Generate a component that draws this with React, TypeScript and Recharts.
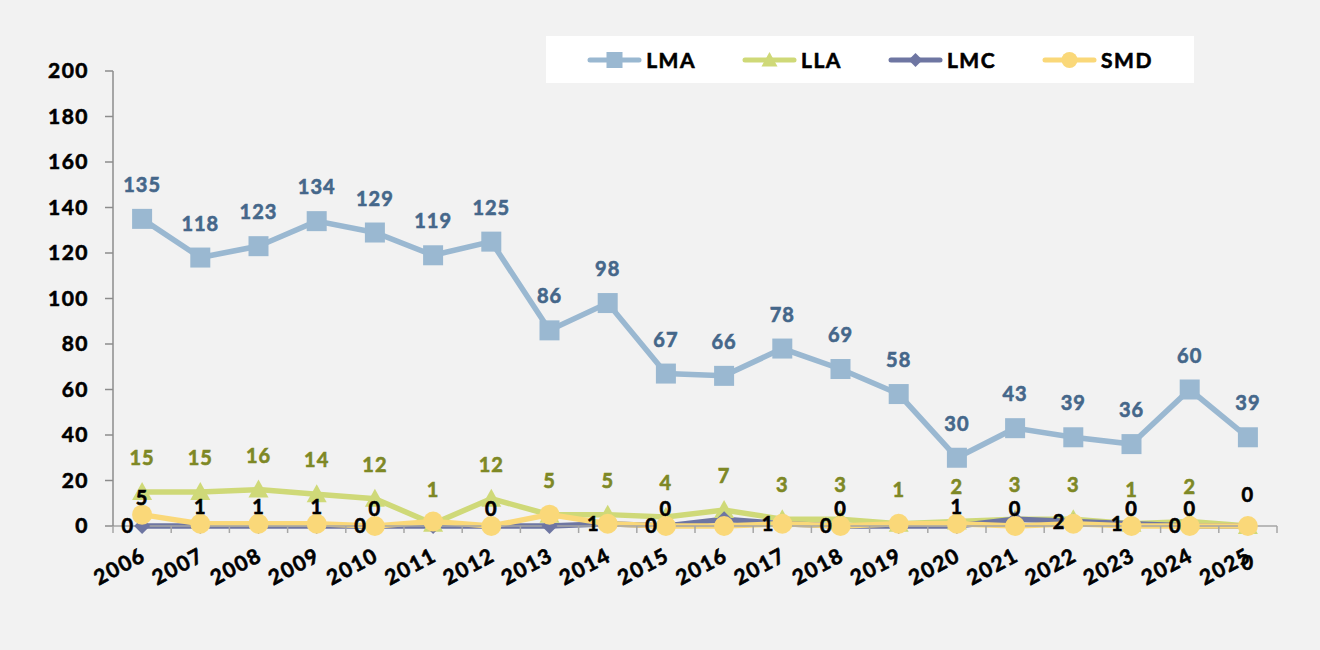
import React from 'react';
import { LabelList, Legend, Line, LineChart, XAxis, YAxis } from 'recharts';

const YEARS = [
  '2006', '2007', '2008', '2009', '2010', '2011', '2012', '2013', '2014', '2015',
  '2016', '2017', '2018', '2019', '2020', '2021', '2022', '2023', '2024', '2025',
];

const LMA = [135, 118, 123, 134, 129, 119, 125, 86, 98, 67, 66, 78, 69, 58, 30, 43, 39, 36, 60, 39];
const LLA = [15, 15, 16, 14, 12, 1, 12, 5, 5, 4, 7, 3, 3, 1, 2, 3, 3, 1, 2, 0];
const LMC = [0, 0, 0, 0, 0, 0, 0, 0, 1, 0, 3, 1, 0, 0, 0, 3, 2, 1, 0, 0];
const SMD = [5, 1, 1, 1, 0, 2, 0, 5, 1, 0, 0, 1, 0, 1, 1, 0, 1, 0, 0, 0];

// labels that are actually visible in the source (null = hidden)
const LLA_LABELS = [15, 15, 16, 14, 12, 1, 12, 5, 5, 4, 7, 3, 3, 1, 2, 3, 3, 1, 2, null];
const LMC_LABELS = [0, null, null, null, 0, null, null, null, 1, 0, null, 1, 0, null, null, null, 2, 1, 0, null];
const LMC_LABELS_BELOW = [null, null, null, null, null, null, null, null, null, null, null, null, null, null, null, null, null, null, null, 0];
const SMD_LABELS = [5, 1, 1, 1, 0, null, 0, null, null, 0, null, null, 0, null, 1, 0, null, 0, 0, null];
const SMD_LABELS_HIGH = [null, null, null, null, null, null, null, null, null, null, null, null, null, null, null, null, null, null, null, 0];

const Y_TICKS = [0, 20, 40, 60, 80, 100, 120, 140, 160, 180, 200];

const COLORS = {
  lma: '#9ab8d1',
  lla: '#cfd978',
  lmc: '#6e76a2',
  smd: '#fad879',
  lmaText: '#45678a',
  llaText: '#7e8825',
};

const WIDTH = 1320;
const HEIGHT = 650;
const PLOT_LEFT = 113;
const PLOT_RIGHT = 1277;
const BAND = (PLOT_RIGHT - PLOT_LEFT) / YEARS.length;

const data = YEARS.map((year, i) => ({
  year,
  lma: LMA[i],
  lla: LLA[i],
  lmc: LMC[i],
  smd: SMD[i],
  llaLbl: LLA_LABELS[i],
  lmcLbl: LMC_LABELS[i],
  lmcLblBelow: LMC_LABELS_BELOW[i],
  smdLbl: SMD_LABELS[i],
  smdLblHigh: SMD_LABELS_HIGH[i],
}));

type Shape = 'square' | 'triangle' | 'diamond' | 'circle';

const SERIES: { key: string; name: string; color: string; shape: Shape }[] = [
  { key: 'lma', name: 'LMA', color: COLORS.lma, shape: 'square' },
  { key: 'lla', name: 'LLA', color: COLORS.lla, shape: 'triangle' },
  { key: 'lmc', name: 'LMC', color: COLORS.lmc, shape: 'diamond' },
  { key: 'smd', name: 'SMD', color: COLORS.smd, shape: 'circle' },
];

// heavier text, closer to the bold Calibri look of the source
const labelText = (color: string) => ({
  fontSize: 20,
  fontWeight: 700,
  letterSpacing: 1,
  fill: color,
  stroke: color,
  strokeWidth: 0.6,
});

function Marker({ cx, cy, shape, color, size }: { cx: number; cy: number; shape: Shape; color: string; size: number }) {
  const h = size / 2;
  if (shape === 'square') {
    return <rect x={cx - h} y={cy - h} width={size} height={size} fill={color} />;
  }
  if (shape === 'triangle') {
    return <polygon points={`${cx},${cy - h} ${cx + h},${cy + h * 0.8} ${cx - h},${cy + h * 0.8}`} fill={color} />;
  }
  if (shape === 'diamond') {
    return <polygon points={`${cx},${cy - h} ${cx + h},${cy} ${cx},${cy + h} ${cx - h},${cy}`} fill={color} />;
  }
  return <circle cx={cx} cy={cy} r={h} fill={color} />;
}

function makeDot(shape: Shape, color: string, size: number) {
  return (props: any) => {
    const { cx, cy, index } = props;
    if (cx == null || cy == null) return <g key={`d-${index}`} />;
    return (
      <g key={`d-${index}`}>
        <Marker cx={cx} cy={cy} shape={shape} color={color} size={size} />
      </g>
    );
  };
}

function YearTick(props: any) {
  const { x, y, payload, index } = props;
  const last = index === YEARS.length - 1;
  const tx = x + 5;
  const ty = y + 34;
  return (
    <g>
      <line x1={x - BAND / 2} y1={y} x2={x - BAND / 2} y2={y + 7} stroke="#a6a6a6" strokeWidth={1.5} />
      {last && <line x1={x + BAND / 2} y1={y} x2={x + BAND / 2} y2={y + 7} stroke="#a6a6a6" strokeWidth={1.5} />}
      <text
        x={tx}
        y={ty}
        textAnchor="end"
        transform={`rotate(-28, ${tx}, ${ty})`}
        fontSize={21}
        fontWeight={700}
        letterSpacing={1.5}
        fill="#000"
        stroke="#000"
        strokeWidth={0.6}
      >
        {payload.value}
      </text>
    </g>
  );
}

function LegendBox() {
  return (
    <div
      style={{
        display: 'flex',
        alignItems: 'center',
        justifyContent: 'center',
        gap: 46,
        background: '#ffffff',
        height: 47,
        width: 648,
      }}
    >
      {SERIES.map(s => (
        <div key={s.key} style={{ display: 'flex', alignItems: 'center', gap: 4 }}>
          <svg width={55} height={24}>
            <line x1={3} y1={12} x2={52} y2={12} stroke={s.color} strokeWidth={5} strokeLinecap="round" />
            <Marker cx={27.5} cy={12} shape={s.shape} color={s.color} size={s.shape === 'diamond' ? 14 : 16} />
          </svg>
          <span
            style={{
              fontSize: 21,
              fontWeight: 700,
              letterSpacing: 1.5,
              color: '#000',
              WebkitTextStroke: '0.6px #000',
            }}
          >
            {s.name}
          </span>
        </div>
      ))}
    </div>
  );
}

export default function App() {
  return (
    <div
      style={{
        position: 'absolute',
        left: 0,
        top: 0,
        width: WIDTH,
        height: HEIGHT,
        background: '#f2f2f2',
        fontFamily: 'Lato, "Open Sans", sans-serif',
      }}
    >
      <LineChart
        width={WIDTH}
        height={HEIGHT}
        data={data}
        margin={{ top: 71, right: WIDTH - PLOT_RIGHT, bottom: 64, left: 0 }}
      >
        <XAxis
          dataKey="year"
          height={60}
          padding={{ left: BAND / 2, right: BAND / 2 }}
          axisLine={{ stroke: '#a6a6a6', strokeWidth: 1.5 }}
          tickLine={false}
          tickSize={0}
          tickMargin={0}
          interval={0}
          tick={<YearTick />}
        />
        <YAxis
          width={PLOT_LEFT}
          domain={[0, 200]}
          ticks={Y_TICKS}
          interval={0}
          axisLine={{ stroke: '#8c8c8c', strokeWidth: 1.5 }}
          tickLine={{ stroke: '#8c8c8c', strokeWidth: 1.5 }}
          tickSize={8}
          tickMargin={16}
          tick={{ fontSize: 21, fontWeight: 700, fill: '#000', stroke: '#000', strokeWidth: 0.6, letterSpacing: 1.5 }}
        />
        <Legend
          layout="horizontal"
          verticalAlign="middle"
          align="center"
          wrapperStyle={{ position: 'absolute', left: 546, top: 36, width: 648, height: 47 }}
          content={() => <LegendBox />}
        />
        <Line
          dataKey="lma"
          name="LMA"
          stroke={COLORS.lma}
          strokeWidth={5.5}
          dot={makeDot('square', COLORS.lma, 20)}
          activeDot={false}
          isAnimationActive={false}
        >
          <LabelList dataKey="lma" position="top" offset={27} {...labelText(COLORS.lmaText)} />
        </Line>
        <Line
          dataKey="lla"
          name="LLA"
          stroke={COLORS.lla}
          strokeWidth={5.5}
          dot={makeDot('triangle', COLORS.lla, 20)}
          activeDot={false}
          isAnimationActive={false}
        >
          <LabelList dataKey="llaLbl" position="top" offset={27} {...labelText(COLORS.llaText)} />
        </Line>
        <Line
          dataKey="lmc"
          name="LMC"
          stroke={COLORS.lmc}
          strokeWidth={5.5}
          dot={makeDot('diamond', COLORS.lmc, 16)}
          activeDot={false}
          isAnimationActive={false}
        >
          <LabelList dataKey="lmcLbl" position="left" offset={8} {...labelText('#000')} />
          <LabelList dataKey="lmcLblBelow" position="bottom" offset={30} {...labelText('#000')} />
        </Line>
        <Line
          dataKey="smd"
          name="SMD"
          stroke={COLORS.smd}
          strokeWidth={5.5}
          dot={makeDot('circle', COLORS.smd, 20)}
          activeDot={false}
          isAnimationActive={false}
        >
          <LabelList dataKey="smdLbl" position="top" offset={10} {...labelText('#000')} />
          <LabelList dataKey="smdLblHigh" position="top" offset={24} {...labelText('#000')} />
        </Line>
      </LineChart>
    </div>
  );
}
